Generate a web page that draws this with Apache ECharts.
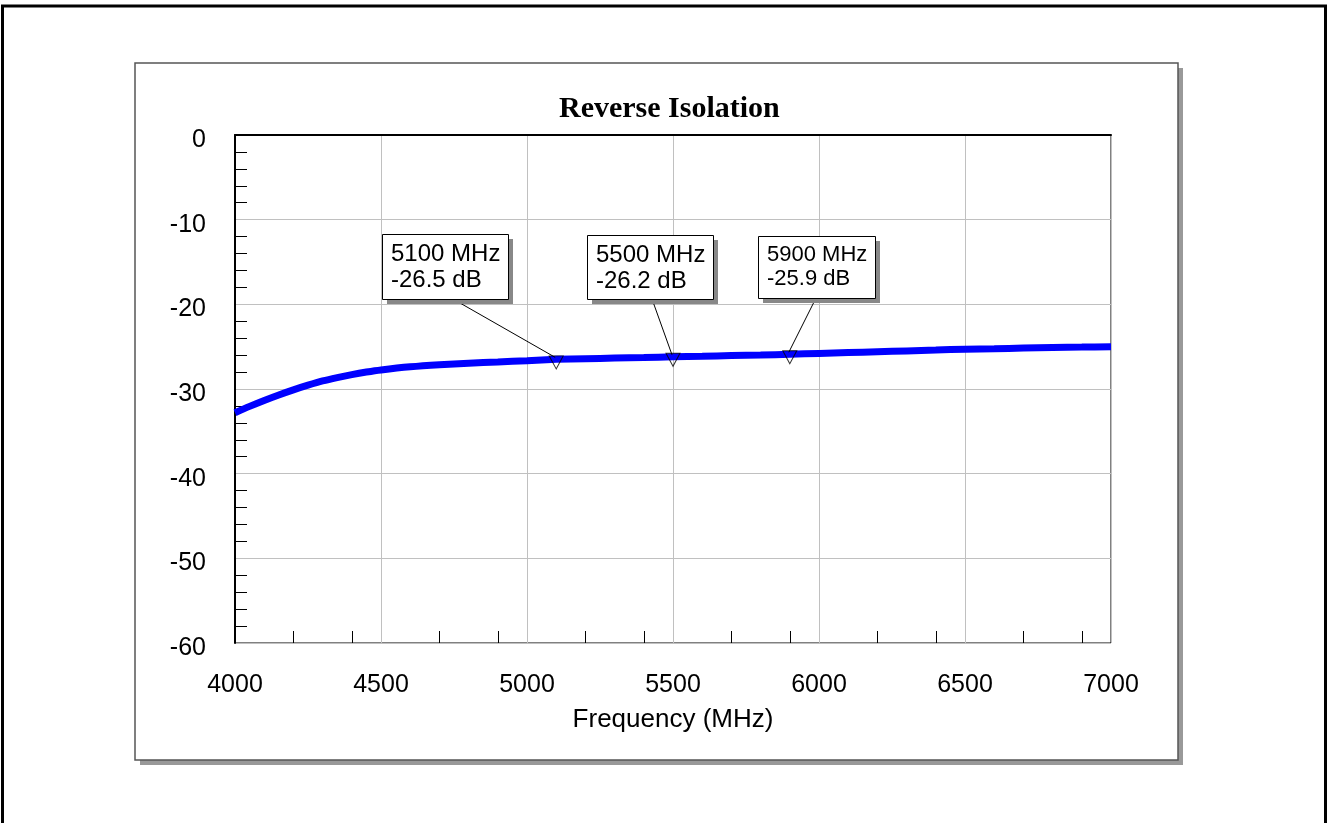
<!DOCTYPE html>
<html>
<head>
<meta charset="utf-8">
<title>Reverse Isolation</title>
<script src="https://cdn.jsdelivr.net/npm/echarts@6/dist/echarts.min.js"></script>
<style>
  html, body { margin: 0; padding: 0; background: #fff; }
  #chart { width: 1328px; height: 823px; }
</style>
</head>
<body>
<div id="chart"></div>
<script>
// measured curve (MHz, dB)
var freqs = [4000, 4050, 4100, 4150, 4200, 4250, 4300, 4350, 4400, 4450, 4500,
  4600, 4700, 4800, 4900, 5000, 5100, 5200, 5300, 5400, 5500, 5600, 5700, 5800,
  5900, 6000, 6100, 6200, 6300, 6400, 6500, 6600, 6700, 6800, 6900, 7000];
var isolation = [-32.8, -32.05, -31.35, -30.7, -30.1, -29.55, -29.05, -28.65, -28.3, -28.0, -27.75,
  -27.38, -27.13, -26.95, -26.8, -26.65, -26.5, -26.42, -26.35, -26.28, -26.2, -26.13, -26.05, -25.98,
  -25.9, -25.8, -25.7, -25.6, -25.5, -25.4, -25.3, -25.24, -25.17, -25.1, -25.05, -25.0];

// markers
var markerFreqs = [5100, 5500, 5900];
var markerValues = [-26.5, -26.2, -25.9];

// minor tick positions on the frequency axis
var freqMinorTicks = [4200, 4400, 4700, 4900, 5200, 5400, 5700, 5900, 6200, 6400, 6700, 6900];

// callout box placement relative to marker (px): dx, dy, width, height, leader x, font size
var callouts = [
  { dx: -174, dy: -125, w: 126, h: 65, lx: 71, fs: 24 },
  { dx: -86, dy: -122, w: 126, h: 64, lx: 65, fs: 24 },
  { dx: -32, dy: -118, w: 117, h: 62, lx: 58, fs: 22 }
];

var GRID = { left: 235, top: 135, width: 876, height: 508 };
var FONT = '"Liberation Sans", Arial, sans-serif';

var chart = echarts.init(document.getElementById('chart'));

var option = {
  animation: false,
  backgroundColor: '#fff',
  title: {
    text: 'Reverse Isolation',
    left: 559,
    top: 94,
    padding: 0,
    textStyle: {
      fontFamily: '"Liberation Serif", "Times New Roman", serif',
      fontWeight: 'bold',
      fontSize: 30,
      color: '#000'
    }
  },
  grid: {
    left: GRID.left,
    top: GRID.top,
    width: GRID.width,
    height: GRID.height,
    show: true,
    borderColor: '#000',
    borderWidth: 1,
    backgroundColor: 'transparent'
  },
  xAxis: [{
    type: 'value',
    min: 4000,
    max: 7000,
    interval: 500,
    name: 'Frequency (MHz)',
    nameLocation: 'middle',
    nameGap: 64,
    nameTextStyle: { fontFamily: FONT, fontSize: 26, color: '#000' },
    axisLine: { lineStyle: { color: '#000', width: 2 } },
    axisTick: { show: false },
    axisLabel: {
      fontFamily: FONT, fontSize: 25, color: '#000', margin: 30,
      formatter: function (v) { return String(v); }
    },
    splitLine: { show: true, lineStyle: { color: '#c0c0c0', width: 1 } }
  }, {
    type: 'value',
    min: 4000,
    max: 7000,
    position: 'bottom',
    axisLine: { show: false },
    axisLabel: { show: false },
    splitLine: { show: false },
    axisTick: {
      show: true,
      inside: true,
      length: 12,
      customValues: freqMinorTicks,
      lineStyle: { color: '#000', width: 1 }
    }
  }],
  yAxis: {
    type: 'value',
    min: -60,
    max: 0,
    interval: 10,
    axisLine: { show: true, lineStyle: { color: '#000', width: 2 } },
    axisTick: { show: false, inside: true },
    minorTick: { show: true, splitNumber: 5, length: 12, lineStyle: { color: '#000', width: 1 } },
    axisLabel: {
      color: '#000', margin: 29,
      formatter: function (v) { return '{v|' + v + '}'; },
      rich: { v: { fontFamily: FONT, fontSize: 25, color: '#000', padding: [10, 0, 0, 0] } }
    },
    splitLine: { show: true, lineStyle: { color: '#c0c0c0', width: 1 } }
  },
  series: [{
    type: 'line',
    data: freqs.map(function (f, i) { return [f, isolation[i]]; }),
    showSymbol: false,
    smooth: 0.3,
    lineStyle: { color: '#0000ff', width: 7 },
    z: 3
  }, {
    type: 'scatter',
    data: markerFreqs.map(function (f, i) { return [f, markerValues[i]]; }),
    symbol: 'triangle',
    symbolRotate: 180,
    symbolSize: [14, 13],
    symbolOffset: [0, 3],
    itemStyle: { color: 'transparent', borderColor: '#000', borderWidth: 1 },
    z: 4
  }],
  graphic: [{
    // outer frame
    type: 'rect',
    z: -20,
    shape: { x: 2.5, y: 6, width: 1323, height: 900 },
    style: { fill: 'none', stroke: '#000', lineWidth: 3 }
  }, {
    // panel shadow
    type: 'rect',
    z: -19,
    shape: { x: 140, y: 68, width: 1043, height: 697 },
    style: { fill: '#999' }
  }, {
    // panel
    type: 'rect',
    z: -18,
    shape: { x: 135, y: 63, width: 1043, height: 697 },
    style: { fill: '#fff', stroke: '#555', lineWidth: 1.5 }
  }]
};

chart.setOption(option);

// callout boxes positioned from the data through the chart's scales
var extra = [];
markerFreqs.forEach(function (f, i) {
  var p = chart.convertToPixel({ gridIndex: 0 }, [f, markerValues[i]]);
  var c = callouts[i];
  var bx = Math.round(p[0] + c.dx), by = Math.round(p[1] + c.dy);
  extra.push({
    type: 'line', z: 50,
    shape: { x1: bx + c.lx, y1: by + c.h, x2: p[0] - 1, y2: p[1] - 2 },
    style: { stroke: '#000', lineWidth: 1 }
  });
  extra.push({
    type: 'rect', z: 51,
    shape: { x: bx + 5, y: by + 5, width: c.w, height: c.h },
    style: { fill: '#888' }
  });
  extra.push({
    type: 'rect', z: 52,
    shape: { x: bx + 0.5, y: by + 0.5, width: c.w, height: c.h },
    style: { fill: '#fff', stroke: '#000', lineWidth: 1 }
  });
  extra.push({
    type: 'text', z: 53,
    x: bx + 9, y: by + 7,
    style: {
      text: f + ' MHz\n' + markerValues[i].toFixed(1) + ' dB',
      font: c.fs + 'px ' + FONT,
      lineHeight: c.fs + 2,
      fill: '#000',
      verticalAlign: 'top'
    }
  });
});

chart.setOption({ graphic: option.graphic.concat(extra) });

window.addEventListener('resize', function () { chart.resize(); });
</script>
</body>
</html>
